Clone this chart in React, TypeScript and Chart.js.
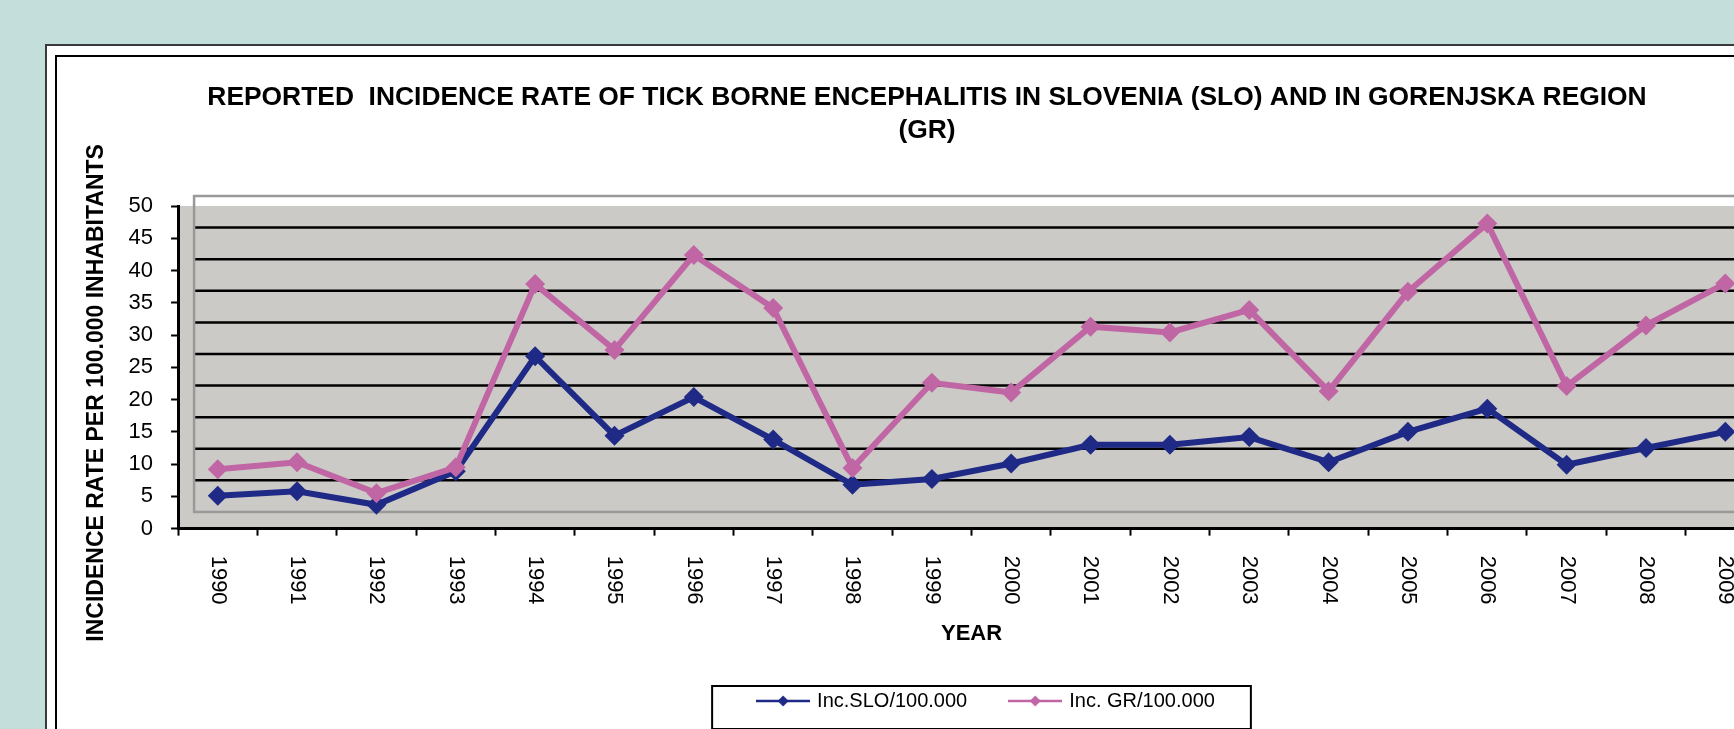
import React, { useEffect, useRef } from 'react';
import { Chart, registerables } from 'chart.js';

Chart.register(...registerables);

// ---------- data ----------
const years = ['1990', '1991', '1992', '1993', '1994', '1995', '1996', '1997', '1998', '1999',
  '2000', '2001', '2002', '2003', '2004', '2005', '2006', '2007', '2008', '2009'];
const sloRates = [5.1, 5.8, 3.7, 8.9, 26.7, 14.4, 20.4, 13.8, 6.8, 7.7,
  10.1, 13.0, 13.0, 14.2, 10.3, 15.0, 18.6, 9.9, 12.5, 15.0];
const grRates = [9.2, 10.3, 5.5, 9.5, 37.9, 27.7, 42.4, 34.2, 9.4, 22.6,
  21.1, 31.3, 30.4, 33.9, 21.3, 36.7, 47.3, 22.1, 31.5, 38.0];
const yTickValues = [0, 5, 10, 15, 20, 25, 30, 35, 40, 45, 50];
const seriesNames = ['Inc.SLO/100.000', 'Inc. GR/100.000'];
const titleLines = ['REPORTED  INCIDENCE RATE OF TICK BORNE ENCEPHALITIS IN SLOVENIA (SLO) AND IN GORENJSKA REGION', '(GR)'];
const yTitle = 'INCIDENCE RATE PER 100.000 INHABITANTS';
const xTitle = 'YEAR';

// ---------- style ----------
const FONT = "'Liberation Sans', Arial, Helvetica, sans-serif";
const SLO_COLOR = '#1f2a86';
const GR_COLOR = '#c066a4';
const WALL_FILL = '#cccac7';
const WALL_BASE = 2.59;
const WALL_STEP = 4.896;
const WALL_DEPTH = 16;
const X_LABEL_OFFSET = 27;
const X_LABEL_SIZE = 22;
const LEGEND_SHIFT = 63;
const TITLE_SHIFT = 3;
const Y_TITLE_PAD = '        ';

const wallPlugin = {
  id: 'wall',
  beforeDraw(chart: any) {
    const { ctx, chartArea: a } = chart;
    const y = chart.scales.y;
    ctx.save();
    ctx.fillStyle = WALL_FILL;
    ctx.fillRect(a.left, a.top, a.right - a.left, a.bottom - a.top);
    const left = a.left + WALL_DEPTH;
    const right = a.right + WALL_DEPTH + 40;
    const bottom = y.getPixelForValue(WALL_BASE);
    const top = y.getPixelForValue(WALL_BASE + 10 * WALL_STEP);
    ctx.strokeStyle = '#000';
    ctx.lineWidth = 2.5;
    for (let k = 1; k < 10; k++) {
      const py = y.getPixelForValue(WALL_BASE + k * WALL_STEP);
      ctx.beginPath();
      ctx.moveTo(left, py);
      ctx.lineTo(right, py);
      ctx.stroke();
    }
    ctx.strokeStyle = '#999999';
    ctx.lineWidth = 2.5;
    ctx.strokeRect(left, top, right - left, bottom - top);
    ctx.restore();
  },
};

const xLabelPlugin = {
  id: 'xLabels',
  afterDraw(chart: any) {
    const x = chart.scales.x;
    const { ctx } = chart;
    ctx.save();
    ctx.font = `${X_LABEL_SIZE}px ${FONT}`;
    ctx.fillStyle = '#000';
    ctx.textAlign = 'left';
    ctx.textBaseline = 'middle';
    const y0 = x.top + X_LABEL_OFFSET;
    years.forEach((lab, i) => {
      const px = x.getPixelForValue(i);
      ctx.save();
      ctx.translate(px, y0);
      ctx.rotate(Math.PI / 2);
      ctx.fillText(lab, 0, 0);
      ctx.restore();
    });
    ctx.restore();
  },
};

const legendFramePlugin = {
  id: 'legendFrame',
  afterLayout(chart: any) {
    if (chart.legend) {
      chart.legend.left += LEGEND_SHIFT;
      chart.legend.right += LEGEND_SHIFT;
    }
    if (chart.titleBlock) {
      chart.titleBlock.left += TITLE_SHIFT;
      chart.titleBlock.right += TITLE_SHIFT;
    }
  },
  afterDraw(chart: any) {
    const lg = chart.legend;
    const hb = lg && lg.legendHitBoxes;
    if (!hb || !hb.length) return;
    const first = hb[0];
    const last = hb[hb.length - 1];
    const { ctx } = chart;
    const left = first.left - 47;
    const right = last.left + last.width + 36;
    const top = first.top - 5;
    const bottom = first.top + 38;
    ctx.save();
    ctx.strokeStyle = '#000';
    ctx.lineWidth = 2;
    ctx.strokeRect(left, top, right - left, bottom - top);
    ctx.restore();
  },
};

function makeIcon(color: string) {
  const c = document.createElement('canvas');
  c.width = 54;
  c.height = 14;
  const g = c.getContext('2d')!;
  g.strokeStyle = color;
  g.lineWidth = 2.5;
  g.beginPath();
  g.moveTo(0, 7);
  g.lineTo(54, 7);
  g.stroke();
  g.fillStyle = color;
  g.beginPath();
  g.moveTo(27, 1.5);
  g.lineTo(32.5, 7);
  g.lineTo(27, 12.5);
  g.lineTo(21.5, 7);
  g.closePath();
  g.fill();
  return c;
}

export default function App() {
  const ref = useRef<HTMLCanvasElement | null>(null);

  useEffect(() => {
    if (!ref.current) return;
    Chart.defaults.font.family = FONT;
    Chart.defaults.color = '#000';
    const icons = [makeIcon(SLO_COLOR), makeIcon(GR_COLOR)];
    const chart = new Chart(ref.current, {
      type: 'line',
      data: {
        labels: years,
        datasets: [
          {
            label: seriesNames[0],
            data: sloRates,
            borderColor: SLO_COLOR,
            backgroundColor: SLO_COLOR,
            pointBackgroundColor: SLO_COLOR,
            borderWidth: 6,
            pointStyle: 'rectRot',
            pointRadius: 10,
            pointBorderWidth: 0,
            tension: 0,
            order: 1,
          },
          {
            label: seriesNames[1],
            data: grRates,
            borderColor: GR_COLOR,
            backgroundColor: GR_COLOR,
            pointBackgroundColor: GR_COLOR,
            borderWidth: 6,
            pointStyle: 'rectRot',
            pointRadius: 10,
            pointBorderWidth: 0,
            tension: 0,
            order: 0,
          },
        ],
      },
      options: {
        responsive: false,
        maintainAspectRatio: false,
        animation: false,
        events: [],
        layout: { padding: { left: 25, right: 31, top: 0, bottom: 17 } },
        scales: {
          x: {
            type: 'category',
            offset: true,
            grid: { offset: true, drawOnChartArea: false, tickLength: 7, tickColor: '#000', tickWidth: 2 },
            border: { display: true, color: '#000', width: 3 },
            ticks: {
              autoSkip: false,
              minRotation: 90,
              maxRotation: 90,
              padding: 10,
              color: 'rgba(0,0,0,0)',
              font: { size: X_LABEL_SIZE },
            },
            title: {
              display: true,
              text: xTitle,
              color: '#000',
              font: { size: 22, weight: 'bold' },
              padding: { top: 16, bottom: 0 },
            },
          },
          y: {
            min: yTickValues[0],
            max: yTickValues[yTickValues.length - 1],
            ticks: { stepSize: yTickValues[1] - yTickValues[0], padding: 18, color: '#000', font: { size: 22 } },
            grid: { drawOnChartArea: false, drawTicks: true, tickLength: 7, tickColor: '#000', tickWidth: 2 },
            border: { display: true, color: '#000', width: 3 },
            title: {
              display: true,
              text: yTitle + Y_TITLE_PAD,
              color: '#000',
              font: { size: 23, weight: 'bold' },
              padding: { top: 0, bottom: 0 },
            },
          },
        },
        plugins: {
          tooltip: { enabled: false },
          title: {
            display: true,
            text: titleLines,
            color: '#000',
            font: { size: 26.4, weight: 'bold', lineHeight: 1.25 },
            padding: { top: 23, bottom: 59 },
          },
          legend: {
            display: true,
            position: 'bottom',
            align: 'center',
            labels: {
              usePointStyle: true,
              pointStyleWidth: 48,
              padding: 44,
              color: '#000',
              font: { size: 20 },
              generateLabels: (ch: any) => {
                const items = Chart.defaults.plugins.legend.labels.generateLabels(ch);
                items.sort((a: any, b: any) => a.datasetIndex - b.datasetIndex);
                items.forEach((it: any) => {
                  it.pointStyle = icons[it.datasetIndex];
                });
                return items;
              },
            },
          },
        },
      },
      plugins: [wallPlugin, xLabelPlugin, legendFramePlugin],
    } as any);
    return () => chart.destroy();
  }, []);

  return (
    <div style={{ position: 'fixed', left: 0, top: 0, right: 0, bottom: 0, background: '#c4dfdb', overflow: 'hidden' }}>
      <div style={{ position: 'absolute', left: 45, top: 44, width: 3000, height: 3000, border: '2px solid #3a3a3a', background: '#fff', boxSizing: 'border-box' }} />
      <div style={{ position: 'absolute', left: 55, top: 55, width: 3000, height: 3000, border: '2px solid #000', background: '#fff', boxSizing: 'border-box' }} />
      <canvas ref={ref} width={1738} height={680} style={{ position: 'absolute', left: 58, top: 58, background: '#fff' }} />
    </div>
  );
}
